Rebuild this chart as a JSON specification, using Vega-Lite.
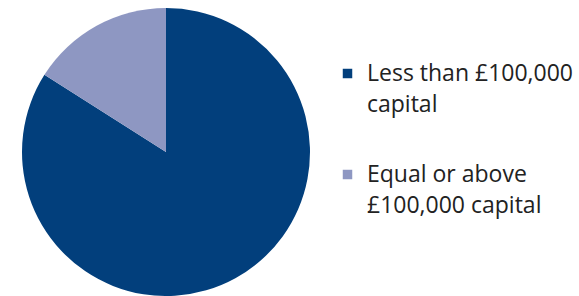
{
  "$schema": "https://vega.github.io/schema/vega-lite/v6.json",
  "width": 288,
  "height": 288,
  "padding": {"left": 22, "top": 8, "right": 0, "bottom": 0},
  "background": "white",
  "data": {
    "values": [
      {"category": "Less than £100,000\ncapital", "share": 84, "order": 1},
      {"category": "Equal or above\n£100,000 capital", "share": 16, "order": 2}
    ]
  },
  "mark": {"type": "arc"},
  "encoding": {
    "theta": {"field": "share", "type": "quantitative", "stack": true},
    "order": {"field": "order", "type": "quantitative"},
    "color": {
      "field": "category",
      "type": "nominal",
      "sort": ["Less than £100,000\ncapital", "Equal or above\n£100,000 capital"],
      "scale": {"domain": ["Less than £100,000\ncapital", "Equal or above\n£100,000 capital"], "range": ["#023F7C", "#8E97C2"]},
      "legend": {
        "title": null,
        "orient": "none",
        "legendX": 314,
        "legendY": 54,
        "symbolType": "square",
        "symbolSize": 90,
        "symbolStrokeWidth": 0,
        "labelFont": "Open Sans",
        "labelFontSize": 23,
        "labelColor": "#222222",
        "labelLimit": 300,
        "labelOffset": 8,
        "labelExpr": "split(datum.label, '\\n')",
        "rowPadding": 46
      }
    }
  },
  "config": {
    "view": {"stroke": null},
    "style": {"guide-label": {"lineHeight": 31}}
  }
}
